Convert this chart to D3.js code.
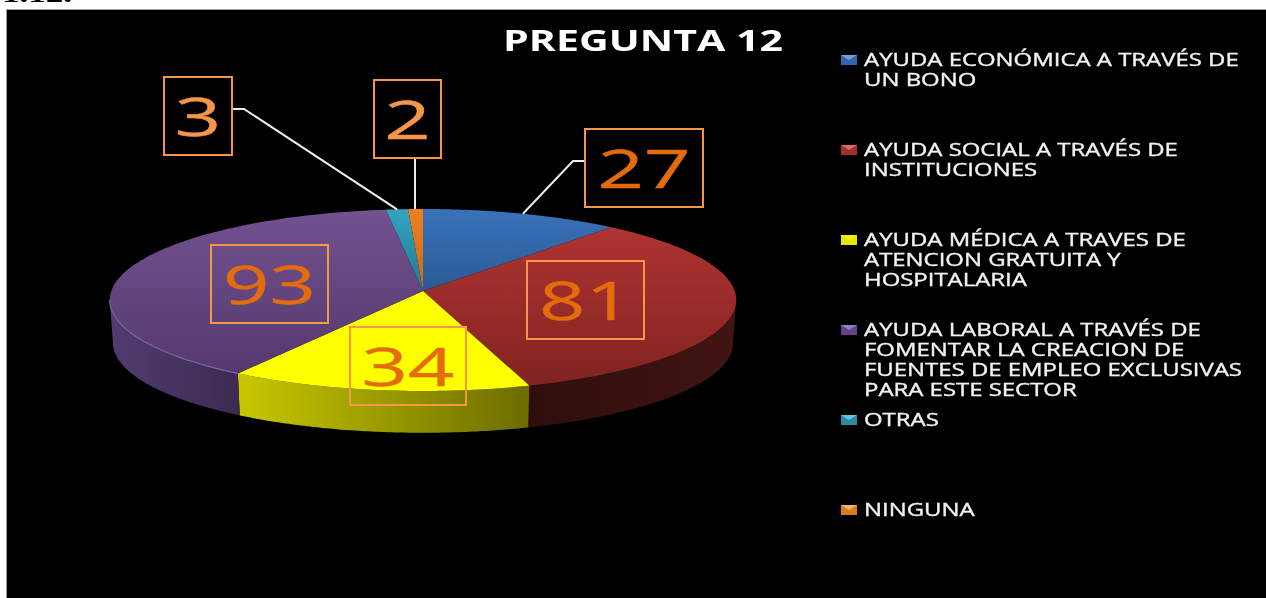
<!DOCTYPE html>
<html><head><meta charset="utf-8">
<script src="https://cdn.jsdelivr.net/npm/d3@7/dist/d3.min.js"></script>
<style>html,body{margin:0;padding:0;background:#fff;overflow:hidden}svg{display:block}</style>
</head><body><div id="chart"></div>
<script>
const categories = ["AYUDA ECONÓMICA A TRAVÉS DE UN BONO","AYUDA SOCIAL A TRAVÉS DE INSTITUCIONES","AYUDA MÉDICA A TRAVES DE ATENCION GRATUITA Y HOSPITALARIA","AYUDA LABORAL A TRAVÉS DE FOMENTAR LA CREACION DE FUENTES DE EMPLEO EXCLUSIVAS PARA ESTE SECTOR","OTRAS","NINGUNA"];
const legendLines = [["AYUDA ECONÓMICA A TRAVÉS DE","UN BONO"],["AYUDA SOCIAL A TRAVÉS DE","INSTITUCIONES"],["AYUDA MÉDICA A TRAVES DE","ATENCION GRATUITA Y","HOSPITALARIA"],["AYUDA LABORAL A TRAVÉS DE","FOMENTAR LA CREACION DE","FUENTES DE EMPLEO EXCLUSIVAS","PARA ESTE SECTOR"],["OTRAS"],["NINGUNA"]];
const values = [27,81,34,93,3,2];
const titleText = "PREGUNTA 12";
const cornerText = "1.12.";

const W=1266,H=598;
const svg=d3.select("#chart").append("svg").attr("width",W).attr("height",H);
const defs=svg.append("defs");
const FONT="'Open Sans',sans-serif";
defs.append("filter").attr("id","soft").attr("x","-5%").attr("y","-5%").attr("width","110%").attr("height","110%")
  .append("feGaussianBlur").attr("stdDeviation",0.45);

const topCols=[["#3a72ba","#295a94"],["#b43533","#7f2321"],["#ffff00","#ffff00"],["#72528f","#52366b"],["#33a4c2","#24788f"],["#ee801f","#c4691a"]];
const sideCols=[["#1c3a60","#1c3a60"],["#300d0d","#411514"],["#c8c800","#6c6c00"],["#503c70","#3d2a52"],["#1d5c70","#1d5c70"],["#8a4a10","#8a4a10"]];
const swatchCols=[["#2f66ad","#6f9fdc"],["#9e2f2d","#dc6a68"],["#e6e600","#f4f400"],["#63438a","#9a7cc0"],["#2a8ba6","#6cc6de"],["#dd7a1e","#f7b26a"]];

// perspective projection of the unit disc onto the page
const P=0.0989;
function projector(cx,y0,R,Ry){return (a,r=1)=>{const u=r*Math.sin(a),v=-r*Math.cos(a),d=1-P*v;return [cx+R*u/d,y0+Ry*v/d];};}
const topP=projector(423,291,311.7,90.1), botP=projector(423,334,308.5,89);

const arcs=d3.pie().sort(null).value(d=>d)(values);
const rad=d3.scaleLinear().domain([0,360]).range([0,2*Math.PI]);
const line=d3.line();
const sample=(a0,a1,n=90)=>d3.range(n+1).map(i=>a0+(a1-a0)*i/n);
// silhouette of the projected disc: where its x is extreme
const silhouetteR=Math.acos(-P), silhouetteL=2*Math.PI-silhouetteR;

values.forEach((_,i)=>{
  const short=(i===0||i>=4);
  const t=defs.append("linearGradient").attr("id","top"+i).attr("gradientUnits","userSpaceOnUse").attr("x1",0).attr("x2",0).attr("y1",209).attr("y2",391);
  t.append("stop").attr("offset",0).attr("stop-color",topCols[i][0]);
  t.append("stop").attr("offset",short?0.45:1).attr("stop-color",topCols[i][1]);
  const s=defs.append("linearGradient").attr("id","side"+i);
  s.append("stop").attr("offset",0).attr("stop-color",sideCols[i][0]);
  s.append("stop").attr("offset",1).attr("stop-color",sideCols[i][1]);
});

svg.append("rect").attr("x",6).attr("y",9).attr("width",W-6).attr("height",H-9).attr("fill","#9a9a9a");
svg.append("rect").attr("x",7).attr("y",10).attr("width",W-7).attr("height",H-10).attr("fill","#000");
const corner=svg.append("text").text(cornerText).attr("font-family","'Liberation Serif',serif").attr("font-weight",700).attr("font-size",21).attr("fill","#000");
corner.attr("transform",`translate(2,2) scale(${70/corner.node().getComputedTextLength()},1)`);

// side walls: only the near half of the disc is visible
const g=svg.append("g");
arcs.forEach((d,i)=>{
  const lo=Math.max(d.startAngle,silhouetteR), hi=Math.min(d.endAngle,silhouetteL);
  if(hi<=lo) return;
  const a=sample(lo,hi);
  const pts=a.map(x=>topP(x)).concat(a.slice().reverse().map(x=>botP(x)));
  g.append("path").attr("d",line(pts)+"Z").attr("fill",`url(#side${i})`);
});
// top faces
arcs.forEach((d,i)=>{
  const pts=[topP(0,0)].concat(sample(d.startAngle,d.endAngle).map(x=>topP(x)));
  g.append("path").attr("d",line(pts)+"Z").attr("fill",`url(#top${i})`);
});
// purple rim highlight
g.append("path").attr("d",line(sample(arcs[3].startAngle,silhouetteL).map(x=>topP(x)))).attr("fill","none").attr("stroke","#7d5fa6").attr("stroke-width",1.3);

// leader lines
const leaderBends={0:[[585,161],[573,161]],4:[[232,109],[244,109]],5:[[415,158]]};
Object.entries(leaderBends).forEach(([i,b])=>{
  const d=arcs[+i], mid=(d.startAngle+d.endAngle)/2;
  const end=topP(+i===0?rad(20.5):mid);
  svg.append("path").attr("fill","none").attr("stroke","#eeeeee").attr("stroke-width",2)
    .attr("d",line(b.concat([+i===5?[b[0][0],end[1]]:end])));
});

// data labels
const labelBoxes=[[585,129,118,78],[527,261,117,78],[350,327,116,78],[211,245,117,78],[164,77,68,78],[374,80,67,78]];
const labelInk=["#e46c0a","#e46c0a","#e46c0a","#e46c0a","#f79646","#f79646"];
const lab=svg.append("g");
values.forEach((v,i)=>{
  const [x,y,w,h]=labelBoxes[i];
  lab.append("rect").attr("x",x).attr("y",y).attr("width",w).attr("height",h).attr("fill","none").attr("stroke","#f79646").attr("stroke-width",2);
});
const labText=lab.append("g").attr("filter","url(#soft)");
const probe=labText.append("text").text("27").attr("font-family",FONT).attr("font-size",53);
const labSx=93/probe.node().getComputedTextLength(); probe.remove();
values.forEach((v,i)=>{
  const [x,y,w,h]=labelBoxes[i];
  labText.append("text").text(v).attr("text-anchor","middle").attr("font-family",FONT).attr("font-size",53)
    .attr("fill",labelInk[i]).attr("stroke",labelInk[i]).attr("stroke-width",0.4)
    .attr("transform",`translate(${x+w/2},${y+h/2+19.5}) scale(${labSx},1)`);
});

// title
const tt=svg.append("text").text(titleText).attr("font-family",FONT).attr("font-weight",700).attr("font-size",28).attr("fill","#fff").attr("filter","url(#soft)");
tt.attr("transform",`translate(503,51) scale(${280/tt.node().getComputedTextLength()},1)`);

// legend
const leg=svg.append("g");
const legendY=d3.scaleLinear().domain([0,5]).range([60,510]);
const legText=leg.append("g").attr("filter","url(#soft)");
const pr=legText.append("text").text(legendLines[0][0]).attr("font-family",FONT).attr("font-size",17.5);
const legSx=375/pr.node().getComputedTextLength(); pr.remove();
legendLines.forEach((lines,i)=>{
  const cy=legendY(i);
  leg.append("rect").attr("x",841).attr("y",cy-5).attr("width",16).attr("height",10).attr("fill",swatchCols[i][0]);
  leg.append("path").attr("d",`M841,${cy-5}H857L849,${cy}Z`).attr("fill",swatchCols[i][1]);
  lines.forEach((t,j)=>{
    legText.append("text").text(t).attr("font-family",FONT).attr("font-size",17.5).attr("fill","#f2f2f2").attr("stroke","#f2f2f2").attr("stroke-width",0.35)
      .attr("transform",`translate(864,${cy+5.5+j*20.3}) scale(${legSx},1)`);
  });
});
</script></body></html>
